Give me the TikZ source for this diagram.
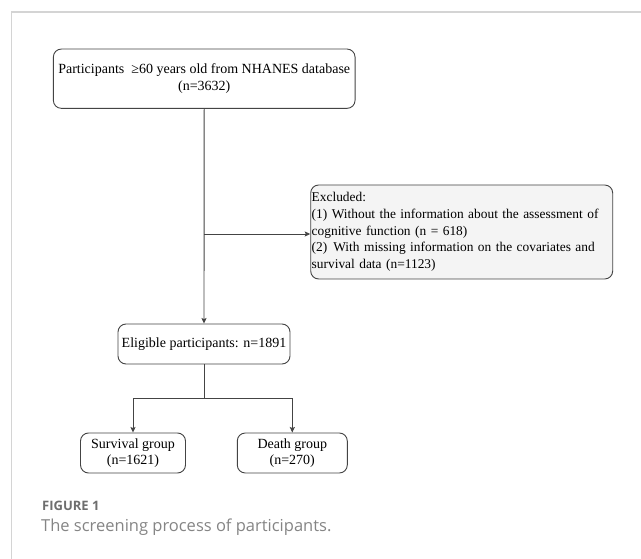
\documentclass[tikz,border=0pt]{standalone}
\usepackage{fontspec}
\setmainfont{Liberation Serif}
\newfontfamily\capfont{Open Sans}
\usetikzlibrary{arrows.meta,calc}
\definecolor{framegray}{HTML}{D4D4D4}
\definecolor{linegray}{HTML}{444444}
\definecolor{exclfill}{HTML}{F4F4F4}
\definecolor{capgray}{HTML}{6E6E6E}
\definecolor{capgrayb}{HTML}{858585}
\tikzset{
  flowbox/.style={draw=linegray, line width=0.9pt, rounded corners=8pt, align=center,
    font=\fontsize{14}{16.5}\selectfont, inner sep=1pt},
  conn/.style={draw=linegray, line width=0.9pt},
  arr/.style={conn, -{Stealth[length=5.5pt,width=5pt,inset=1pt]}},
}
\begin{document}
\begin{tikzpicture}[x=1pt,y=-1pt]
\useasboundingbox (0,0) rectangle (641,559);
\fill[white] (0,0) rectangle (641,559);
\draw[framegray, line width=1.2pt] (11.5,559) -- (11.5,12) -- (641,12);

\node[flowbox, minimum width=301.7pt, minimum height=59.3pt] (top) at (204.2,78.7)
  {Participants\hspace{0.5em}≥60 years old from NHANES database\\(n=3632)};
\node[flowbox, fill=exclfill, minimum width=302pt, minimum height=94pt, text width=300pt, align=left, inner xsep=1pt,
  font=\fontsize{13.4}{16.7}\selectfont] (excl) at (461.7,232)
  {Excluded:\\(1) Without the information about the assessment of\\cognitive function (n = 618)\\(2)\hspace{0.45em}With missing information on the covariates and\\survival data (n=1123)};
\node[flowbox, minimum width=172pt, minimum height=40pt] (elig) at (204,344)
  {Eligible participants: n=1891};
\node[flowbox, minimum width=105pt, minimum height=40pt] (surv) at (133,453)
  {Survival group\\(n=1621)};
\node[flowbox, minimum width=110pt, minimum height=40pt] (death) at (292.3,453)
  {Death group\\(n=270)};

\coordinate (j) at (top.south |- 0,234);
\coordinate (s) at (elig.south |- 0,398);
\draw[arr] (top.south) -- (elig.north);
\draw[arr] (j) -- (excl.west |- j);
\draw[conn] (elig.south) -- (s);
\draw[arr] (s) -| (surv.north);
\draw[arr] (s) -| (death.north);

\node[anchor=base west, inner sep=0pt, text=capgray, font=\capfont\fontsize{13}{15}\selectfont\bfseries] (fig) at (42,510) {FIGURE 1};
\node[anchor=base west, inner sep=0pt, text=capgrayb, font=\capfont\fontsize{16.5}{19}\selectfont] (cap) at (41,531.7) {The screening process of participants.};
\end{tikzpicture}
\end{document}
